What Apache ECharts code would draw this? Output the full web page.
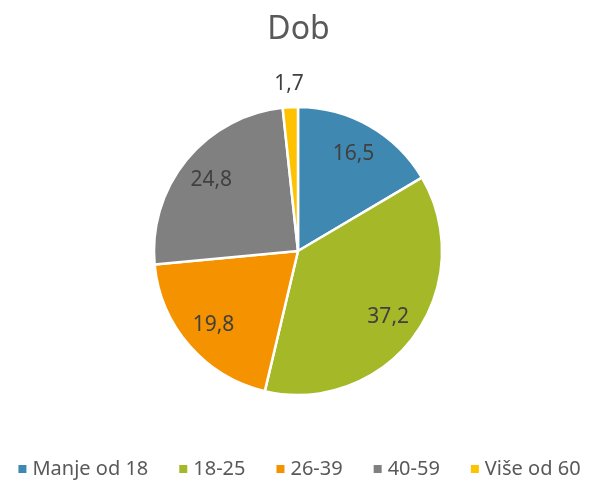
<!DOCTYPE html>
<html style="height: 100%">
<head>
 <meta charset="utf-8">
 <title>Dob</title>
 <script src="https://cdn.jsdelivr.net/npm/echarts@6/dist/echarts.min.js"></script>
</head>
<body style="height: 100%; margin: 0; background: #fff">
 <div id="main" style="width: 597px; height: 484px"></div>
 <script type="text/javascript">
 // podaci
 var categories = ['Manje od 18', '18-25', '26-39', '40-59', 'Više od 60'];
 var values = [16.5, 37.2, 19.8, 24.8, 1.7];
 var colors = ['#3F88B2', '#A5B828', '#F59200', '#808080', '#FEC200'];

 var myChart = echarts.init(document.getElementById('main'));

 var pieData = categories.map(function (name, i) {
 return { name: name, value: values[i], itemStyle: { color: colors[i] } };
 });

 var font = '"Noto Sans", "Open Sans", sans-serif';

 var option = {
 animation: false,
 title: {
 text: 'Dob',
 left: 'center',
 top: 9,
 textStyle: { fontFamily: font, fontSize: 32, fontWeight: 'normal', color: '#595959' }
 },
 legend: {
 data: categories,
 bottom: 0,
 left: 'center',
 icon: 'rect',
 itemWidth: 10,
 itemHeight: 10,
 itemGap: 29,
 textStyle: { fontFamily: font, fontSize: 20, color: '#595959' }
 },
 series: [
 {
 type: 'pie',
 center: [298, 251],
 radius: [0, 144],
 startAngle: 90,
 clockwise: true,
 silent: true,
 data: pieData,
 itemStyle: { borderColor: '#fff', borderWidth: 2.5 },
 label: { show: false },
 labelLine: { show: false }
 },
 {
 // prozirni sloj samo za oznake
 type: 'pie',
 center: [298, 251],
 radius: [76, 142],
 startAngle: 90,
 clockwise: true,
 silent: true,
 data: categories.map(function (name, i) {
 return { name: name, value: values[i], itemStyle: { color: 'rgba(0,0,0,0)' } };
 }),
 label: {
 show: true,
 position: 'inside',
 fontFamily: font,
 fontSize: 21,
 color: '#404040',
 formatter: function (p) { return String(p.value).replace('.', ','); }
 },
 labelLine: { show: false },
 labelLayout: function (p) {
 // mali isječak: oznaka izvan kruga
 if (p.dataIndex === 4) return { dx: -3, dy: -55 };
 return {};
 }
 }
 ]
 };

 myChart.setOption(option);
 </script>
</body>
</html>
